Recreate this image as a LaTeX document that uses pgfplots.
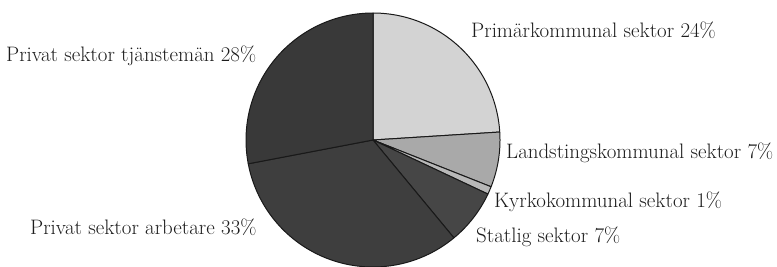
\documentclass[border=0pt]{standalone}
\usepackage{pgfplots}
\pgfplotsset{compat=1.18}
\usepackage{pgfplotstable}
\pgfplotstableread{
pct
24
7
1
7
33
28
}\piedata
\definecolor{c0}{HTML}{D3D3D3}
\definecolor{c1}{HTML}{A9A9A9}
\definecolor{c2}{HTML}{B8B8B8}
\definecolor{c3}{HTML}{464646}
\definecolor{c4}{HTML}{3E3E3E}
\definecolor{c5}{HTML}{393939}
\definecolor{txt}{HTML}{1C1C1C}
\begin{document}
\begin{tikzpicture}
\begin{axis}[hide axis, scale only axis, width=777bp, height=267bp,
  xmin=0, xmax=777, ymin=0, ymax=267, clip=true]
\pgfmathsetmacro\startangle{90}
\pgfplotsforeachungrouped \i in {0,...,5}{%
  \pgfplotstablegetelem{\i}{pct}\of\piedata
  \pgfmathsetmacro\stopangle{\startangle-3.6*\pgfplotsretval}%
  \edef\cmd{\noexpand\addplot[fill=c\i, draw=black!90, line width=1pt, line join=round, domain=\stopangle:\startangle, samples=80] ({373+127*cos(x)},{127+127*sin(x)}) -- (axis cs:373,127) -- cycle;}%
  \cmd
  \global\let\startangle\stopangle
}
\begin{scope}[every node/.style={anchor=base west, inner sep=0pt, text=txt, font=\fontsize{21}{25}\selectfont}]
\node at (axis cs:471,229) {Primärkommunal sektor 24\%};
\node at (axis cs:6,205) {Privat sektor tjänstemän 28\%};
\node at (axis cs:506,108) {Landstingskommunal sektor 7\%};
\node at (axis cs:494,59) {Kyrkokommunal sektor 1\%};
\node at (axis cs:476,25) {Statlig sektor 7\%};
\node at (axis cs:30,32) {Privat sektor arbetare 33\%};
\end{scope}
\end{axis}
\pgfresetboundingbox
\path (0,0) rectangle (777bp,267bp);
\end{tikzpicture}
\end{document}
